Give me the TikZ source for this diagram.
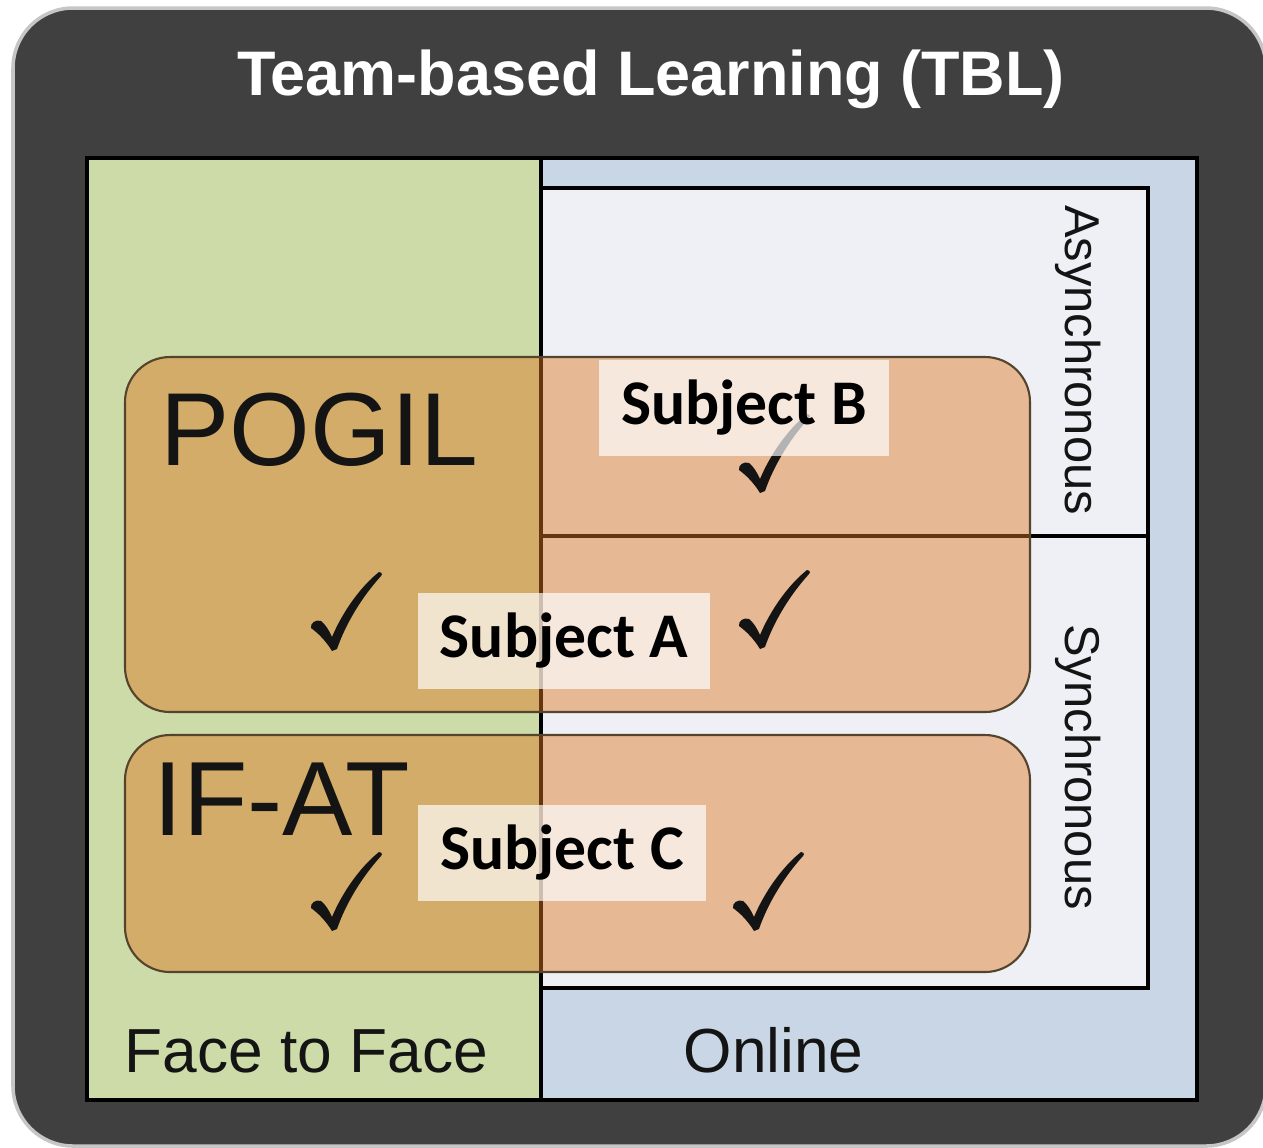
\documentclass[tikz,border=0pt]{standalone}
\usepackage{fontspec}
\setmainfont{Liberation Sans}
\newfontfamily\subjfont{Carlito}
\usepackage{xcolor}
\definecolor{framegray}{RGB}{64,64,64}
\definecolor{facegreen}{RGB}{204,219,168}
\definecolor{onlineblue}{RGB}{201,214,229}
\definecolor{syncwhite}{RGB}{238,240,246}
\definecolor{tblorange}{RGB}{221,118,33}
\definecolor{edgebrown}{RGB}{85,68,45}
\usepackage{tikz}
\newcommand{\tickat}[1]{\fill[black!92,shift={(#1)}] (-14,40) .. controls (-20,30) and (-28,22) .. (-35,17) .. controls (-36,12) and (-30,8) .. (-25,10) .. controls (-21,13) and (-17,19) .. (-14,26) .. controls (-4,2) and (14,-24) .. (33,-39) .. controls (35,-40) and (37,-37) .. (35,-35) .. controls (16,-14) and (0,12) .. (-9,38) -- cycle;}

\begin{document}
\begin{tikzpicture}[x=0.01cm,y=-0.01cm,
  lbl/.style={inner sep=0pt,text=black!92},
  method/.style={fill=tblorange,fill opacity=0.46,draw=edgebrown,line width=0.6pt,rounded corners=0.45cm},
  subj/.style={fill=white,fill opacity=0.68,text opacity=1,inner sep=0pt,minimum height=0.95cm,font=\subjfont\bfseries\fontsize{18.1}{20}\selectfont}]
\useasboundingbox (0,0) rectangle (1263,1147);
\fill[framegray,draw=gray!45,line width=1pt,rounded corners=0.6cm] (13,8) rectangle (1266,1146);
\node[anchor=base,text=white,font=\bfseries\fontsize{17.9}{20}\selectfont] (title) at (651,95) {Team-based Learning (TBL)};
\fill[facegreen] (87,158) rectangle (541,1100);
\fill[onlineblue] (541,158) rectangle (1197,1100);
\filldraw[fill=syncwhite,line width=1pt] (541,188) rectangle (1148,988);
\draw[line width=1pt] (541,536) -- (1148,536);
\draw[line width=1.2pt] (87,158) rectangle (1197,1100);
\draw[line width=1.2pt] (541,158) -- (541,1100);
\node[lbl,rotate=-90,font=\fontsize{13.9}{16}\selectfont] (async) at (1078,360) {Asynchronous};
\node[lbl,rotate=-90,font=\fontsize{13.9}{16}\selectfont] (sync) at (1078,767) {Synchronous};
\node[lbl,anchor=base west,font=\fontsize{17.7}{20}\selectfont] (f2f) at (124,1072) {Face to Face};
\node[lbl,anchor=base west,font=\fontsize{17.7}{20}\selectfont] (online) at (683,1072) {Online};
\path[method] (125,357) rectangle (1030,712);
\path[method] (125,735) rectangle (1030,972);
\node[lbl,anchor=base west,font=\fontsize{29.5}{32}\selectfont] (pogil) at (160,465) {POGIL};
\node[lbl,anchor=base west,font=\fontsize{30}{32}\selectfont] (ifat) at (153,835) {IF-AT};
\coordinate (chkA) at (346,611);
\coordinate (chkB) at (774,453);
\coordinate (chkS) at (774,609);
\coordinate (chkC) at (346,891);
\coordinate (chkD) at (768,891);
\tickat{chkA}
\tickat{chkB}
\tickat{chkS}
\tickat{chkC}
\tickat{chkD}
\node[subj,minimum width=2.89cm] (subB) at (744,408) {Subject B};
\node[subj,minimum width=2.91cm] (subA) at (564,641) {Subject A};
\node[subj,minimum width=2.87cm] (subC) at (562,853) {Subject C};
\end{tikzpicture}
\end{document}
